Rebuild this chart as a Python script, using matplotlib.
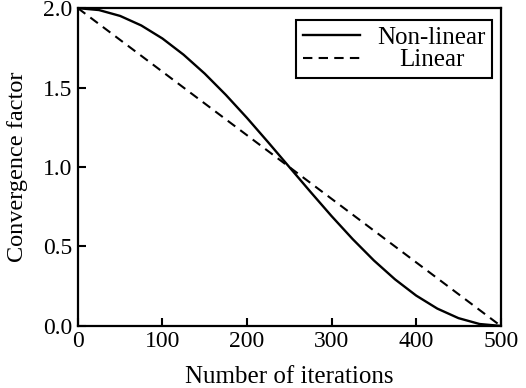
import matplotlib
matplotlib.use('Agg')
import matplotlib.pyplot as plt

plt.rcParams['font.family'] = ['Liberation Serif', 'DejaVu Serif']

# values, every 25 iterations
iterations = [0, 25, 50, 75, 100, 125, 150, 175, 200, 225, 250,
              275, 300, 325, 350, 375, 400, 425, 450, 475, 500]
nonlinear = [2.0, 1.988, 1.951, 1.891, 1.809, 1.707, 1.588, 1.454, 1.309, 1.156, 1.0,
             0.844, 0.691, 0.546, 0.412, 0.293, 0.191, 0.109, 0.049, 0.012, 0.0]
linear_x = [0, 500]
linear_y = [2.0, 0.0]

fig = plt.figure(figsize=(5.26, 3.88), dpi=100)
ax = fig.add_axes([0.148, 0.160, 0.804, 0.819])

ax.plot(iterations, nonlinear, 'k-', lw=1.7, label='Non-linear')
ax.plot(linear_x, linear_y, 'k--', lw=1.5, dashes=(4.5, 3), label='Linear')

ax.set_xlim(0, 500)
ax.set_ylim(0, 2.0)
ax.set_xticks([0, 100, 200, 300, 400, 500])
ax.set_yticks([0.0, 0.5, 1.0, 1.5, 2.0])
ax.set_yticklabels(['0.0', '0.5', '1.0', '1.5', '2.0'])
ax.tick_params(direction='in', length=6, width=1.5, labelsize=17, pad=4)
for s in ax.spines.values():
    s.set_linewidth(1.6)

ax.set_xlabel('Number of iterations', fontsize=18, labelpad=10)
ax.set_ylabel('Convergence factor', fontsize=17.5, labelpad=11)

leg = ax.legend(loc='upper right', fontsize=18, fancybox=False, framealpha=1,
                edgecolor='black', handlelength=2.3, borderpad=0.25,
                labelspacing=0.0, handletextpad=0.7, borderaxespad=0,
                bbox_to_anchor=(0.98, 0.962))
leg.get_frame().set_linewidth(1.5)

# centre the legend labels like the reference
fig.canvas.draw()
r = fig.canvas.get_renderer()
texts = leg.get_texts()
ws = [t.get_window_extent(r).width for t in texts]
for t, w in zip(texts, ws):
    t.set_x((max(ws) - w) / 2)

fig.savefig('out.png', dpi=100)
